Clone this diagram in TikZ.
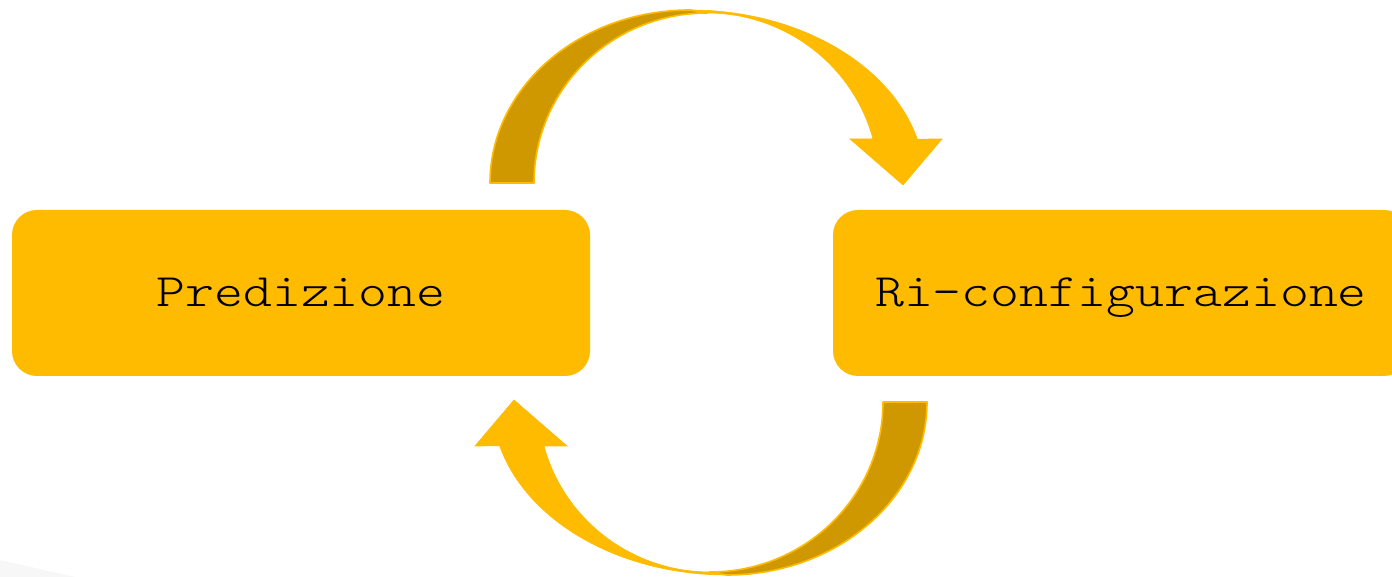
\documentclass[tikz,border=0pt]{standalone}
\usepackage{fontspec}
\newfontfamily\boxfont{Latin Modern Mono Light}[FakeStretch=1.185]
\definecolor{gold}{RGB}{255,187,0}
\definecolor{darkgold}{RGB}{208,152,0}
\tikzset{
  stage/.style={fill=gold, rounded corners=25pt, minimum height=166pt, inner sep=0pt,
                text height=36pt, text depth=8pt,
                font=\boxfont\fontsize{46.5}{50}\selectfont, text=black},
  backband/.style={fill=darkgold, draw=gold, line width=1.6pt, line join=round},
  frontband/.style={fill=gold, draw=gold, line width=0.6pt},
}
% one curved block arrow: back half darker, front half ending in a head
\newcommand\cyclearrow{%
  \path[backband] (490,394) arc[start angle=180, end angle=90, x radius=200, y radius=173]
    -- (707,564) arc[start angle=90, end angle=180, x radius=173, y radius=170] -- cycle;
  \path[frontband] (690,567) arc[start angle=90, end angle=14.7, x radius=235, y radius=173]
    -- (942,438) -- (903,392) -- (850,438) -- (873,438)
    arc[start angle=15, end angle=90, x radius=172, y radius=170] -- cycle;
}
\begin{document}
\begin{tikzpicture}[x=1pt, y=1pt]
\useasboundingbox (0,0) rectangle (1392,577);
% faint background corner
\fill[black!3] (0,0) -- (0,17) -- (75,0) -- cycle;

\node[stage, minimum width=578pt] (pred) at (301,284) {Predizione};
\node[stage, minimum width=576pt] (riconf) at (1121,284) {Ri-configurazione};

\coordinate (hub) at (708.5,284.5);
% upper arrow: Predizione -> Ri-configurazione
\cyclearrow
% lower arrow: Ri-configurazione -> Predizione
\begin{scope}[rotate around={180:(hub)}]
  \cyclearrow
\end{scope}
\end{tikzpicture}
\end{document}
